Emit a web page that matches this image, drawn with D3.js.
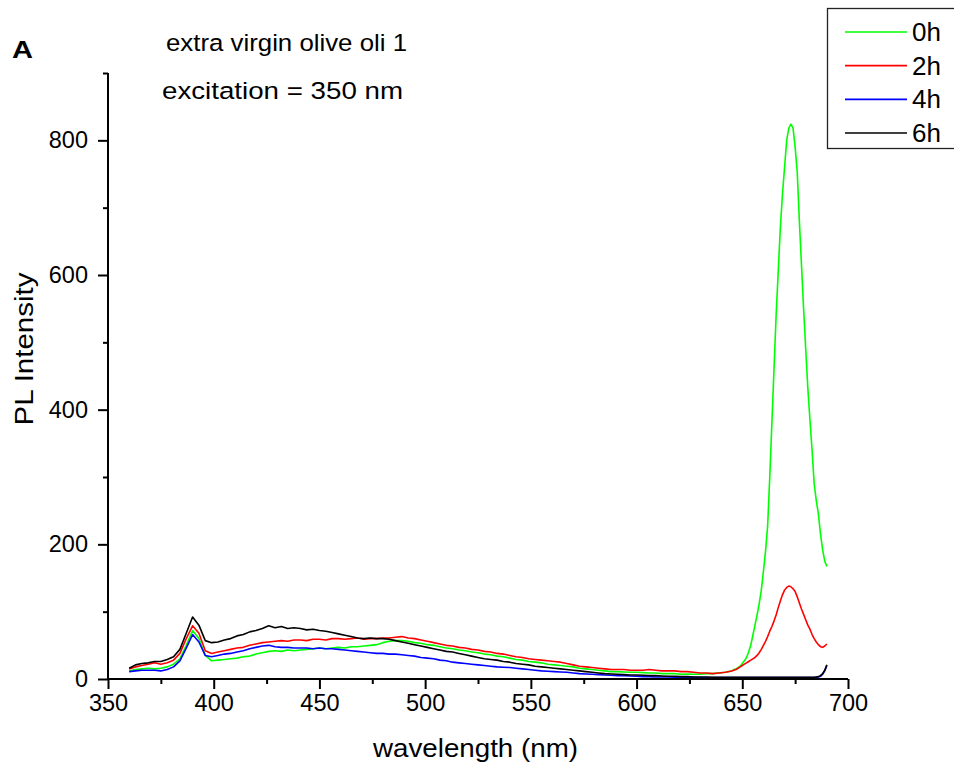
<!DOCTYPE html>
<html>
<head>
<meta charset="utf-8">
<script src="https://cdn.jsdelivr.net/npm/d3@7"></script>
<style>
  html, body { margin: 0; padding: 0; background: #fff; }
  svg { display: block; font-family: Arial, "Liberation Sans", sans-serif; }
</style>
</head>
<body>
<svg id="chart" width="954" height="767"></svg>
<script>
// Wavelength grid (nm): 3 nm steps across the broad band, 1 nm steps through the red peak
const wavelength = d3.range(360, 646, 3).concat(d3.range(646, 691, 1));

// PL intensity, one value per wavelength point
const h0 = [
  // 360 - 387
  12, 14, 15, 16, 15, 16, 18, 22, 30, 50,
  // 390 - 417
  72, 60, 35, 27, 28, 29, 30, 31, 33, 34,
  // 420 - 447
  37, 39, 41, 42, 41, 43, 42, 43, 44, 45,
  // 450 - 477
  46, 45, 46, 47, 46, 48, 48, 49, 50, 51,
  // 480 - 507
  54, 56, 57, 57, 56, 54, 53, 51, 50, 48,
  // 510 - 537
  46, 45, 43, 42, 40, 39, 37, 36, 34, 33,
  // 540 - 567
  31, 29, 28, 26, 25, 24, 22, 21, 20, 19,
  // 570 - 597
  18, 16, 15, 14, 13, 12, 11, 11, 10.5, 10,
  // 600 - 627
  10, 9.5, 9, 9, 8, 8, 8, 7, 7.5, 7,
  // 630 - 645
  7, 8, 8, 9, 10, 12,
  // 646 - 690
  14, 15, 17, 19, 23, 27, 32, 40, 50, 65,
  80, 95, 112, 132, 160, 190, 228, 300, 380, 460,
  540, 605, 670, 720, 760, 800, 818, 824, 818, 790,
  752, 680, 615, 550, 490, 432, 385, 340, 290, 265,
  245, 215, 192, 175, 167
];

const h2 = [
  // 360 - 387
  15, 18, 20, 22, 24, 22, 24, 28, 38, 60,
  // 390 - 417
  79, 68, 42, 38, 40, 42, 44, 46, 47, 50,
  // 420 - 447
  52, 54, 55, 56, 57, 56, 58, 58, 57, 59,
  // 450 - 477
  59, 58, 60, 60, 59, 60, 61, 59, 60, 60,
  // 480 - 507
  61, 61, 62, 63, 61, 60, 58, 56, 54, 52,
  // 510 - 537
  50, 49, 47, 46, 44, 43, 41, 40, 38, 37,
  // 540 - 567
  35, 33, 32, 30, 29, 28, 27, 26, 25, 23,
  // 570 - 597
  21, 19, 18, 17, 16, 15, 14, 14, 14, 13,
  // 600 - 627
  13, 13, 14, 13, 12, 12, 12, 11, 11, 10,
  // 630 - 645
  9, 9, 8, 9, 10, 12,
  // 646 - 690
  13, 14, 16, 18, 20, 22, 24, 26, 28, 30,
  32, 35, 39, 44, 50, 56, 63, 71, 78, 86,
  95, 106, 116, 125, 132, 136, 138, 137, 134, 130,
  122, 113, 104, 96, 88, 80, 74, 66, 60, 55,
  51, 48, 47, 49, 52
];

const h4 = [
  // 360 - 387
  11, 12, 13, 13, 13, 12, 14, 18, 27, 46,
  // 390 - 417
  66, 55, 35, 33, 35, 37, 38, 40, 42, 45,
  // 420 - 447
  47, 49, 50, 48, 47, 47, 46, 46, 46, 45,
  // 450 - 477
  46, 45, 45, 44, 43, 42, 41, 40, 39, 38,
  // 480 - 507
  38, 37, 37, 36, 35, 34, 32, 31, 30, 28,
  // 510 - 537
  27, 25, 24, 23, 22, 21, 20, 19, 18, 17.5,
  // 540 - 567
  17, 16, 15, 14, 13, 12, 11.5, 11, 10.5, 10,
  // 570 - 597
  9, 8, 7.5, 7, 6.5, 6, 5.5, 5, 5, 4.5,
  // 600 - 627
  4, 3.5, 3.5, 3, 3, 3, 2.5, 2.5, 2.5, 2.5,
  // 630 - 645
  2, 2, 2, 2, 2, 2,
  // 646 - 690
  2, 2, 2, 2, 2, 2, 2, 2, 2, 2,
  2, 2, 2, 2, 2, 2, 2, 2, 2, 2,
  2, 2, 2, 2, 2, 2, 2, 2, 2, 2,
  2, 2, 2, 2, 2, 2, 2, 2, 2, 2.5,
  3, 4, 7, 12, 20
];

const h6 = [
  // 360 - 387
  16, 21, 23, 24, 26, 26, 29, 33, 44, 68,
  // 390 - 417
  92, 80, 57, 54, 55, 58, 60, 64, 66, 70,
  // 420 - 447
  72, 75, 79, 76, 78, 75, 76, 75, 73, 74,
  // 450 - 477
  72, 71, 69, 67, 65, 63, 61, 60, 61, 60,
  // 480 - 507
  60, 59, 57, 55, 53, 51, 49, 47, 45, 43,
  // 510 - 537
  41, 40, 38, 36, 34, 32, 30, 29, 28, 26,
  // 540 - 567
  25, 23, 22, 21, 19, 18, 17, 16, 15, 14,
  // 570 - 597
  13, 12, 11, 10, 9, 8, 7.5, 7, 6.5, 6,
  // 600 - 627
  6, 5.5, 5, 5, 4.5, 4, 4, 3.5, 3.5, 3,
  // 630 - 645
  3, 3, 2.5, 2.5, 2.5, 2.5,
  // 646 - 690
  2.5, 2.5, 2.5, 2.5, 2.5, 2.5, 2.5, 2.5, 2.5, 2.5,
  2.5, 2.5, 2.5, 2.5, 2.5, 2.5, 2.5, 2.5, 2.5, 2.5,
  2.5, 2.5, 2.5, 2.5, 2.5, 2.5, 2.5, 2.5, 2.5, 2.5,
  2.5, 2.5, 2.5, 2.5, 2.5, 2.5, 2.5, 2.5, 2.5, 3,
  3.5, 5, 8, 13, 21
];

const seriesNames = ["0h", "2h", "4h", "6h"];
const seriesColors = ["#00ff00", "#ff0000", "#0000ff", "#000000"];
const seriesValues = [h0, h2, h4, h6];

const xTicks = [350, 400, 450, 500, 550, 600, 650, 700];
const yTicks = [0, 200, 400, 600, 800];

const titleText = "extra virgin olive oli 1";
const subtitleText = "excitation = 350 nm";
const panelLabel = "A";
const xLabel = "wavelength (nm)";
const yLabel = "PL Intensity";

// ---- layout ----
const svg = d3.select("#chart");
const plot = { left: 108, right: 848, top: 73, bottom: 679 };

const x = d3.scaleLinear().domain([350, 700]).range([plot.left, plot.right]);
const y = d3.scaleLinear().domain([0, 900]).range([plot.bottom, plot.top]);

// ---- spectra ----
const line = d3.line()
  .x((d, i) => x(wavelength[i]))
  .y(d => y(d));

svg.append("g")
  .selectAll("path")
  .data(seriesValues)
  .join("path")
  .attr("d", d => line(d))
  .attr("fill", "none")
  .attr("stroke", (d, i) => seriesColors[i])
  .attr("stroke-width", 1.6)
  .attr("stroke-linejoin", "round");

// ---- axes ----
const axisStroke = 2;

const xAxis = svg.append("g")
  .attr("transform", `translate(0,${plot.bottom})`)
  .call(d3.axisBottom(x).tickValues(xTicks).tickSize(10).tickPadding(5).tickFormat(d3.format("d")));
const xMinor = svg.append("g")
  .attr("transform", `translate(0,${plot.bottom})`)
  .call(d3.axisBottom(x).tickValues(d3.range(375, 700, 50)).tickSize(5).tickFormat(""));

const yAxis = svg.append("g")
  .attr("transform", `translate(${plot.left},0)`)
  .call(d3.axisLeft(y).tickValues(yTicks).tickSize(10).tickPadding(10).tickFormat(d3.format("d")));
const yMinor = svg.append("g")
  .attr("transform", `translate(${plot.left},0)`)
  .call(d3.axisLeft(y).tickValues([100, 300, 500, 700, 900]).tickSize(5).tickFormat(""));

[xAxis, xMinor, yAxis, yMinor].forEach(g => {
  g.select(".domain").attr("stroke", "#000").attr("stroke-width", axisStroke);
  g.selectAll(".tick line").attr("stroke", "#000").attr("stroke-width", axisStroke);
  g.selectAll(".tick text")
    .attr("fill", "#000")
    .style("font-size", "23.5px")
    .style("font-family", "Arial, 'Liberation Sans', sans-serif");
});
xMinor.select(".domain").remove();
yMinor.select(".domain").remove();
// plain axis lines without end caps
xAxis.select(".domain").attr("d", `M${plot.left},0H${plot.right}`);
yAxis.select(".domain").attr("d", `M0,${plot.top}V${plot.bottom}`);

// ---- axis titles ----
svg.append("text")
  .attr("x", 475.5)
  .attr("y", 757)
  .attr("text-anchor", "middle")
  .attr("textLength", 205)
  .attr("lengthAdjust", "spacingAndGlyphs")
  .style("font-size", "25px")
  .text(xLabel);

svg.append("text")
  .attr("transform", "translate(33,349) rotate(-90)")
  .attr("text-anchor", "middle")
  .attr("textLength", 153)
  .attr("lengthAdjust", "spacingAndGlyphs")
  .style("font-size", "25px")
  .text(yLabel);

// ---- annotations ----
svg.append("text")
  .attr("x", 12).attr("y", 58)
  .attr("textLength", 21)
  .attr("lengthAdjust", "spacingAndGlyphs")
  .style("font-size", "23px")
  .style("font-weight", "bold")
  .text(panelLabel);

svg.append("text")
  .attr("x", 166).attr("y", 51)
  .attr("textLength", 241)
  .attr("lengthAdjust", "spacingAndGlyphs")
  .style("font-size", "24.5px")
  .text(titleText);

svg.append("text")
  .attr("x", 162).attr("y", 99)
  .attr("textLength", 241)
  .attr("lengthAdjust", "spacingAndGlyphs")
  .style("font-size", "24.5px")
  .text(subtitleText);

// ---- legend ----
const legend = svg.append("g");
legend.append("rect")
  .attr("x", 827.5).attr("y", 8.5)
  .attr("width", 140).attr("height", 140)
  .attr("fill", "#fff")
  .attr("stroke", "#222")
  .attr("stroke-width", 1.3);

const rowY = d3.scalePoint().domain(seriesNames).range([32, 133]);
const rows = legend.selectAll("g.row")
  .data(seriesNames)
  .join("g")
  .attr("class", "row")
  .attr("transform", d => `translate(0,${rowY(d)})`);
rows.append("line")
  .attr("x1", 845).attr("x2", 907)
  .attr("stroke", (d, i) => seriesColors[i])
  .attr("stroke-width", 1.6);
rows.append("text")
  .attr("x", 912).attr("y", 9)
  .style("font-size", "26px")
  .text(d => d);
</script>
</body>
</html>
